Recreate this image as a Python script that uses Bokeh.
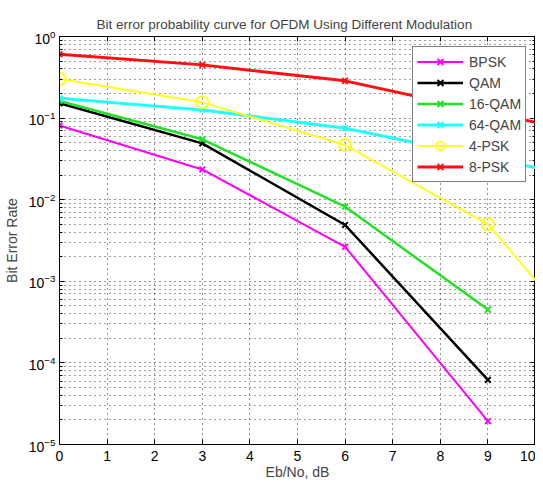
from bokeh.plotting import figure
from bokeh.models import (Range1d, FixedTicker, LogTickFormatter, LinearAxis, LogAxis,
                          Legend, LegendItem, CustomJSTickFormatter)
from bokeh.embed import file_html
from bokeh.resources import INLINE

# Data (Eb/No in dB, bit error rate)
ebno = [0, 3, 6, 9]
ebno_ext = [0, 3, 6, 9, 12]
bpsk = [0.081, 0.0235, 0.00265, 1.93e-5]
qam = [0.152, 0.049, 0.0049, 6.2e-5]
qam16 = [0.162, 0.055, 0.0082, 4.5e-4]
qam64 = [0.175, 0.126, 0.075, 0.0326, 0.0142]
psk4 = [0.302, 0.156, 0.0468, 0.005, 4.4e-5]
psk8 = [0.607, 0.449, 0.286, 0.119, 0.0494]

x_ticks = list(range(0, 11))
y_ticks = [1e-5, 1e-4, 1e-3, 1e-2, 1e-1, 1e0]
y_minor = [m * 10.0 ** k for k in range(-5, 0) for m in range(2, 10)]

FONT = "Liberation Sans"

p = figure(frame_width=476, frame_height=408, y_axis_type="log",
           x_range=Range1d(0, 10), y_range=Range1d(1e-5, 1),
           output_backend="svg", toolbar_location=None,
           min_border_left=50, min_border_top=36, min_border_right=0, min_border_bottom=30,
           title="Bit error probability curve for OFDM Using Different Modulation")
p.background_fill_color = "white"
p.border_fill_color = "white"
p.outline_line_color = "black"
p.outline_line_width = 1

p.title.text_font = FONT
p.title.text_font_size = "13.5px"
p.title.text_font_style = "normal"
p.title.align = "left"
p.title.offset = 37
p.title.standoff = 10

xt = FixedTicker(ticks=x_ticks)
yt = FixedTicker(ticks=y_ticks, minor_ticks=y_minor)

p.xaxis.ticker = xt
p.yaxis.ticker = yt
p.yaxis.formatter = LogTickFormatter()
p.xaxis.axis_label = "Eb/No, dB"
p.yaxis.axis_label = "Bit Error Rate"
for ax in (p.xaxis, p.yaxis):
    ax.axis_label_text_font = FONT
    ax.axis_label_text_font_size = "14px"
    ax.axis_label_text_font_style = "normal"
    ax.major_label_text_font = FONT
    ax.major_label_text_font_size = "14px"
    ax.major_tick_in = 5
    ax.major_tick_out = 0
    ax.minor_tick_in = 3
    ax.minor_tick_out = 0
    ax.axis_line_color = "black"
    ax.major_tick_line_color = "black"
    ax.minor_tick_line_color = "black"
    ax.major_label_text_color = "black"
p.xaxis.major_label_standoff = 6
p.xaxis.axis_label_standoff = 0
p.yaxis.major_label_standoff = 4
p.yaxis.axis_label_standoff = 6

# mirror axes (ticks only) on top and right, MATLAB style
blank = CustomJSTickFormatter(code="return ''")
top = LinearAxis(ticker=xt, formatter=blank, major_tick_in=5,
                 major_tick_out=0, minor_tick_in=0, minor_tick_out=0,
                 major_label_standoff=0)
right = LogAxis(ticker=yt, formatter=blank, major_tick_in=5,
                major_tick_out=0, minor_tick_in=3, minor_tick_out=0,
                major_label_standoff=0)
p.add_layout(top, "above")
p.add_layout(right, "right")

# dotted grid
p.xgrid.ticker = xt
p.ygrid.ticker = yt
for g in (p.xgrid, p.ygrid):
    g.grid_line_color = "black"
    g.grid_line_dash = "1 4"
    g.grid_line_width = 1
    g.grid_line_alpha = 0.85
p.ygrid.minor_grid_line_color = "black"
p.ygrid.minor_grid_line_dash = "1 4"
p.ygrid.minor_grid_line_alpha = 0.75

series = [
    ("BPSK", ebno, bpsk, "#ff00ff", 2, "x"),
    ("QAM", ebno, qam, "black", 2.5, "x"),
    ("16-QAM", ebno, qam16, "#22e022", 2.5, "x"),
    ("64-QAM", ebno_ext, qam64, "#22ffff", 3, "x"),
    ("4-PSK", ebno_ext, psk4, "#ffff22", 2, "circle"),
    ("8-PSK", ebno_ext, psk8, "#ff1111", 3, "x"),
]

items = []
for name, xs, ys, col, lw, mk in series:
    r1 = p.line(xs, ys, line_color=col, line_width=lw)
    if mk == "circle":
        r2 = p.scatter(xs, ys, marker="circle", size=12, line_color=col,
                       fill_alpha=0, line_width=2)
    else:
        r2 = p.scatter(xs, ys, marker="x", size=8, line_color=col, line_width=2)
    items.append(LegendItem(label=name, renderers=[r1, r2]))

legend = Legend(items=items, location=(353, 262), glyph_width=46, glyph_height=21,
                label_height=21, spacing=0, padding=4, margin=0,
                label_text_font=FONT, label_text_font_size="14px",
                label_standoff=6,
                border_line_color="black", border_line_width=1,
                background_fill_color="white", background_fill_alpha=1)
p.add_layout(legend, "center")

open("out.html", "w").write(file_html(p, INLINE))
